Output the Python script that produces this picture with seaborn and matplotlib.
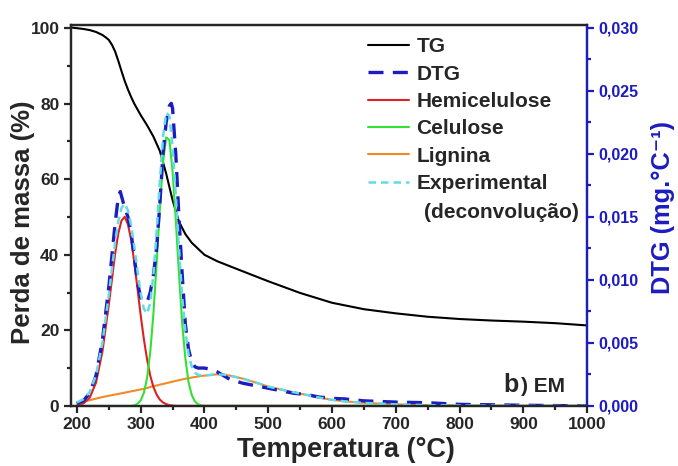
import matplotlib
matplotlib.use("Agg")
import matplotlib.pyplot as plt
import seaborn as sns
from matplotlib.ticker import MultipleLocator, FuncFormatter

# TG curve (left axis, %)
temp_tg = [190, 200, 210, 220, 230, 240, 245, 250, 255, 260, 265, 270, 275, 280,
           285, 290, 300, 310, 320, 330, 340, 350, 360, 370, 380, 400, 420, 450,
           500, 550, 600, 650, 700, 750, 800, 850, 900, 950, 1000]
tg = [100.2, 100.0, 99.8, 99.5, 99.0, 98.2, 97.6, 96.9, 95.6, 93.8, 91.3, 88.6,
      86.0, 83.8, 81.8, 80.0, 77.0, 74.3, 71.3, 67.5, 61.5, 54.5, 48.8, 45.5,
      43.2, 40.0, 38.3, 36.3, 33.0, 29.9, 27.3, 25.6, 24.5, 23.6, 23.0, 22.6,
      22.3, 21.9, 21.3]

# DTG measured (right axis, mg/°C)
temp_dtg = [200, 210, 220, 230, 240, 250, 260, 265, 268, 275, 280, 285, 290, 295,
            300, 305, 310, 315, 320, 325, 330, 335, 340, 345, 348, 350, 355, 360,
            365, 370, 375, 380, 385, 390, 395, 400, 410, 420, 430, 440, 460, 480,
            500, 520, 540, 560, 580, 600, 620, 650, 700, 750, 800, 900, 1000]
dtg = [0.0002, 0.0004, 0.0010, 0.0024, 0.0052, 0.0094, 0.0145, 0.0166, 0.0170,
       0.0157, 0.0150, 0.0137, 0.0118, 0.0098, 0.0086, 0.0083, 0.0082, 0.0090,
       0.0104, 0.0125, 0.0160, 0.0200, 0.0225, 0.0238, 0.0240, 0.0236, 0.0200,
       0.0150, 0.0105, 0.0065, 0.0045, 0.0035, 0.0031, 0.0030, 0.0030, 0.0030,
       0.0029, 0.0027, 0.0024, 0.0021, 0.0018, 0.0016, 0.0014, 0.0012, 0.0010,
       0.0009, 0.0007, 0.0006, 0.00055, 0.0004, 0.0003, 0.00025, 0.00012,
       0.00005, 0.0]

# deconvolution components (right axis, mg/°C)
temp_fit = [200, 210, 220, 230, 240, 250, 260, 265, 270, 275, 280, 285, 290, 295,
            300, 305, 310, 315, 320, 325, 330, 335, 340, 345, 350, 355, 360, 365,
            370, 375, 380, 385, 390, 395, 400, 410, 420, 430, 440, 460, 480, 500,
            520, 540, 560, 580, 600, 620, 650, 700, 750, 800, 900, 1000]
hemi = [0.00004, 0.00018, 0.00064, 0.00185, 0.0043, 0.0080, 0.0121, 0.0137,
        0.0147, 0.0150, 0.0144, 0.0132, 0.0114, 0.0093, 0.0072, 0.0053, 0.0037,
        0.0024, 0.0015, 0.0009, 0.0005, 0.00027, 0.00014, 0.00006, 0.00003, 0.0,
        0.0, 0.0, 0.0, 0.0, 0.0, 0.0, 0.0, 0.0, 0.0, 0.0, 0.0, 0.0, 0.0, 0.0,
        0.0, 0.0, 0.0, 0.0, 0.0, 0.0, 0.0, 0.0, 0.0, 0.0, 0.0, 0.0, 0.0, 0.0]
celu = [0.0, 0.0, 0.0, 0.0, 0.0, 0.0, 0.0, 0.0, 0.0, 0.0, 0.0, 0.0, 0.00005,
        0.00016, 0.00043, 0.00103, 0.0022, 0.00426, 0.00733, 0.0113, 0.0156,
        0.0193, 0.0213, 0.0211, 0.0186, 0.0148, 0.0105, 0.0066, 0.0038, 0.0019,
        0.00087, 0.00035, 0.00013, 0.00004, 0.0, 0.0, 0.0, 0.0, 0.0, 0.0, 0.0,
        0.0, 0.0, 0.0, 0.0, 0.0, 0.0, 0.0, 0.0, 0.0, 0.0, 0.0, 0.0, 0.0]
lign = [0.00024, 0.00034, 0.00045, 0.00058, 0.0007, 0.0008, 0.0009, 0.00095,
        0.0010, 0.00105, 0.0011, 0.00115, 0.0012, 0.00125, 0.0013, 0.00136,
        0.00142, 0.0015, 0.00156, 0.00162, 0.00168, 0.00174, 0.0018, 0.00186,
        0.00192, 0.00198, 0.00204, 0.0021, 0.00215, 0.0022, 0.00225, 0.00229,
        0.00233, 0.00237, 0.0024, 0.00246, 0.0025, 0.00248, 0.0024, 0.00216,
        0.00186, 0.00153, 0.0013, 0.00108, 0.00087, 0.00066, 0.00048, 0.00036,
        0.00024, 0.00012, 0.00006, 0.00003, 0.0, 0.0]
exp_fit = [0.00028, 0.00052, 0.00109, 0.00243, 0.0050, 0.0088, 0.0130, 0.01465,
           0.0157, 0.01605, 0.0155, 0.01435, 0.01265, 0.01071, 0.00893, 0.00769,
           0.00732, 0.00816, 0.01039, 0.01382, 0.01778, 0.02131, 0.02324,
           0.02302, 0.02055, 0.01678, 0.01254, 0.0087, 0.00595, 0.0041, 0.00312,
           0.00264, 0.00246, 0.00241, 0.0024, 0.00246, 0.0025, 0.00248, 0.0024,
           0.00216, 0.00186, 0.00153, 0.0013, 0.00108, 0.00087, 0.00066, 0.00048,
           0.00036, 0.00024, 0.00012, 0.00006, 0.00003, 0.0, 0.0]

blue = "#1c1cc0"

sns.set_style("ticks")
plt.rcParams["font.family"] = ["Liberation Sans", "DejaVu Sans"]
plt.rcParams["font.weight"] = "bold"

fig = plt.figure(figsize=(6.78, 4.66), dpi=100)
ax = fig.add_axes([0.104, 0.129, 0.762, 0.817])
ax2 = ax.twinx()

sns.lineplot(x=temp_tg, y=tg, ax=ax, color="black", lw=1.5, label="TG", legend=False)
sns.lineplot(x=temp_fit, y=lign, ax=ax2, color="#f28a26", lw=1.5, label="Lignina", legend=False)
sns.lineplot(x=temp_fit, y=hemi, ax=ax2, color="#dd2020", lw=1.5, label="Hemicelulose", legend=False)
sns.lineplot(x=temp_fit, y=celu, ax=ax2, color="#33e033", lw=1.5, label="Celulose", legend=False)
sns.lineplot(x=temp_dtg, y=dtg, ax=ax2, color=blue, lw=2.4, linestyle=(0, (4.5, 2.8)),
             label="DTG", legend=False)
sns.lineplot(x=temp_fit, y=exp_fit, ax=ax2, color="#62dbe6", lw=1.8, linestyle=(0, (3, 2)),
             label="Experimental", legend=False)

ax.set_xlim(190, 1000)
ax.set_ylim(0, 100.8)
ax2.set_ylim(0, 0.0302)

ax.xaxis.set_major_locator(MultipleLocator(100))
ax.xaxis.set_minor_locator(MultipleLocator(50))
ax.yaxis.set_major_locator(MultipleLocator(20))
ax.yaxis.set_minor_locator(MultipleLocator(10))
ax2.yaxis.set_major_locator(MultipleLocator(0.005))
ax2.yaxis.set_minor_locator(MultipleLocator(0.0025))
ax2.yaxis.set_major_formatter(FuncFormatter(lambda v, p: f"{v:.3f}".replace(".", ",")))

for a in (ax, ax2):
    for s in a.spines.values():
        s.set_linewidth(1.6)
        s.set_visible(True)
ax2.spines["right"].set_color(blue)
ax.tick_params(which="major", length=5, width=1.6, labelsize=12.5, direction="out", pad=3)
ax.tick_params(which="minor", length=3, width=1.6, direction="out")
ax2.tick_params(axis="y", which="major", length=5, width=1.6, labelsize=11.5,
                colors=blue, direction="out", pad=3)
ax2.tick_params(axis="y", which="minor", length=3, width=1.6, colors=blue, direction="out")

ax.set_xlabel("Temperatura (°C)", fontsize=19.5, fontweight="bold")
ax.set_ylabel("Perda de massa (%)", fontsize=18.5, fontweight="bold")
ax2.set_ylabel("DTG (mg.°C⁻¹)", fontsize=18.3, fontweight="bold", color=blue)
ax.xaxis.set_label_coords(0.534, -0.081)
ax.yaxis.set_label_coords(-0.069, 0.483)
ax2.yaxis.set_label_coords(1.124, 0.522)

h1, l1 = ax.get_legend_handles_labels()
h2, l2 = ax2.get_legend_handles_labels()
hd = dict(zip(l1 + l2, h1 + h2))
order = ["TG", "DTG", "Hemicelulose", "Celulose", "Lignina", "Experimental"]
ax2.legend([hd[k] for k in order], order, loc="upper left", bbox_to_anchor=(0.559, 0.99),
           frameon=False, handlelength=2.0, handletextpad=0.35,
           labelspacing=0.4, borderaxespad=0.0, prop={"weight": "bold", "size": 15})
ax2.text(0.685, 0.507, "(deconvolução)", transform=ax.transAxes, fontsize=15,
         fontweight="bold", va="center", ha="left")

ax.text(0.838, 0.055, "b", transform=ax.transAxes, fontsize=18, fontweight="bold",
        va="center", ha="left")
ax.text(0.871, 0.052, ") EM", transform=ax.transAxes, fontsize=15, fontweight="bold",
        va="center", ha="left")

fig.savefig("out.png", dpi=100)
